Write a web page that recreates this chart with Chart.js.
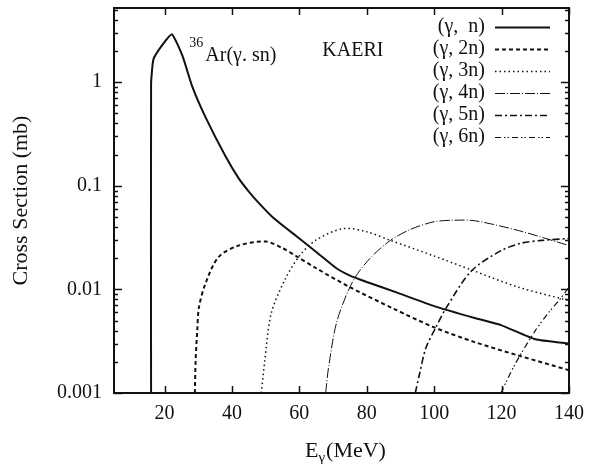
<!DOCTYPE html>
<html>
<head>
<meta charset="utf-8">
<script src="https://cdn.jsdelivr.net/npm/chart.js@4"></script>
<style>
  html, body { margin: 0; padding: 0; background: #fff; }
  #wrap { width: 593px; height: 464px; position: relative; }
</style>
</head>
<body>
<div id="wrap"><canvas id="xsChart"></canvas></div>
<script>
// --- DATA ---
var xTicks = [20, 40, 60, 80, 100, 120, 140];
var yTicks = [0.001, 0.01, 0.1, 1];

var nE     = [16.0, 16.0, 16.7, 19.4, 22.2, 25.3, 28.2, 32, 38, 42, 45, 48, 52, 56.5, 60, 65, 71, 75, 80, 89, 100, 112, 120, 130, 140];
var nSigma = [0.001, 0.95, 1.66, 2.3, 2.9, 1.8, 0.91, 0.47, 0.195, 0.118, 0.088, 0.068, 0.050, 0.038, 0.031, 0.023, 0.0160, 0.0136, 0.0118, 0.0093, 0.0069, 0.0053, 0.0045, 0.0033, 0.0030];

var n2E     = [29.0, 29.2, 29.7, 30.2, 32.1, 36, 42, 50, 55, 59, 65, 75, 88, 100, 112, 125, 140];
var n2Sigma = [0.001, 0.002, 0.004, 0.0067, 0.0113, 0.0205, 0.0265, 0.029, 0.025, 0.021, 0.016, 0.0105, 0.0065, 0.0043, 0.0031, 0.0023, 0.00166];

var n3E     = [48.7, 49.7, 51.6, 55.6, 60, 65, 73, 80, 87, 100, 112, 125, 140];
var n3Sigma = [0.001, 0.002, 0.0058, 0.0122, 0.021, 0.030, 0.0386, 0.036, 0.0297, 0.021, 0.015, 0.0105, 0.0078];

var n4E     = [67.8, 68.7, 71.2, 76, 81, 87, 93, 100, 106, 112, 125, 140];
var n4Sigma = [0.001, 0.0018, 0.005, 0.0122, 0.020, 0.0297, 0.038, 0.045, 0.0465, 0.046, 0.037, 0.0265];

var n5E     = [94.4, 95.6, 97.5, 100.5, 103.4, 111, 120, 126, 132, 140];
var n5Sigma = [0.001, 0.0015, 0.0027, 0.0043, 0.0065, 0.015, 0.0238, 0.028, 0.0297, 0.031];

var n6E     = [119.8, 124, 130, 134, 137, 140];
var n6Sigma = [0.001, 0.0019, 0.004, 0.006, 0.0078, 0.0105];

var seriesLabels = ['(\u03b3,  n)', '(\u03b3, 2n)', '(\u03b3, 3n)', '(\u03b3, 4n)', '(\u03b3, 5n)', '(\u03b3, 6n)'];

function pts(xs, ys) {
  return xs.map(function (x, i) { return { x: x, y: ys[i] }; });
}

var INK = '#111';
var SERIF = '"Liberation Serif", "Times New Roman", serif';

// --- frame, inward ticks, legend, labels (gnuplot look) ---
var gnuplotDecor = {
  id: 'gnuplotDecor',
  afterDraw: function (chart) {
    var ctx = chart.ctx;
    var a = chart.chartArea;
    var xs = chart.scales.x, ys = chart.scales.y;
    ctx.save();
    ctx.strokeStyle = INK;
    ctx.fillStyle = INK;

    // frame
    ctx.lineWidth = 2;
    ctx.strokeRect(a.left, a.top, a.right - a.left, a.bottom - a.top);

    // x ticks, bottom and top
    ctx.lineWidth = 1.5;
    ctx.beginPath();
    xTicks.forEach(function (v) {
      var px = Math.round(xs.getPixelForValue(v)) + 0.5;
      ctx.moveTo(px, a.bottom); ctx.lineTo(px, a.bottom - 7);
      ctx.moveTo(px, a.top);    ctx.lineTo(px, a.top + 7);
    });
    // y ticks, left and right, majors + log minors
    yTicks.forEach(function (dec) {
      for (var m = 1; m <= 9; m++) {
        var v = dec * m;
        if (v > ys.max) break;
        var py = Math.round(ys.getPixelForValue(v)) + 0.5;
        var len = m === 1 ? 8 : 4;
        ctx.moveTo(a.left, py);  ctx.lineTo(a.left + len, py);
        ctx.moveTo(a.right, py); ctx.lineTo(a.right - len, py);
      }
    });
    ctx.stroke();

    // legend, drawn with each dataset's own dash style
    ctx.font = '20px ' + SERIF;
    ctx.textAlign = 'right';
    ctx.textBaseline = 'middle';
    chart.data.datasets.forEach(function (ds, i) {
      var y = a.top + 19 + i * 22;
      ctx.fillText(ds.label, 485, y);
      ctx.save();
      ctx.lineWidth = ds.borderWidth;
      ctx.setLineDash(ds.borderDash || []);
      ctx.beginPath();
      ctx.moveTo(495, y + 0.5);
      ctx.lineTo(550, y + 0.5);
      ctx.stroke();
      ctx.restore();
    });

    // annotations
    ctx.textAlign = 'left';
    ctx.textBaseline = 'alphabetic';
    var ax = xs.getPixelForValue(32.1), ay = ys.getPixelForValue(1.6);
    ctx.font = '14px ' + SERIF;
    ctx.fillText('36', ax - 16, ay - 14);
    ctx.font = '20px ' + SERIF;
    ctx.fillText('Ar(\u03b3. sn)', ax, ay);
    ctx.fillText('KAERI', xs.getPixelForValue(66.8), ys.getPixelForValue(1.78));

    // x title: E sub gamma (MeV)
    var tx = 305, ty = 457;
    ctx.font = '22px ' + SERIF;
    ctx.fillText('E', tx, ty);
    var w = ctx.measureText('E').width;
    ctx.font = '15px ' + SERIF;
    ctx.fillText('\u03b3', tx + w, ty + 5);
    var w2 = ctx.measureText('\u03b3').width;
    ctx.font = '22px ' + SERIF;
    ctx.fillText('(MeV)', tx + w + w2 + 1, ty);

    ctx.restore();
  }
};

var ctx = document.getElementById('xsChart').getContext('2d');
var xsChart = new Chart(ctx, {
  type: 'line',
  data: {
    datasets: [
      { label: seriesLabels[0], data: pts(nE, nSigma),   borderWidth: 2,   borderDash: [],              tension: 0.15 },
      { label: seriesLabels[1], data: pts(n2E, n2Sigma), borderWidth: 2,   borderDash: [4, 3],          tension: 0.3 },
      { label: seriesLabels[2], data: pts(n3E, n3Sigma), borderWidth: 1.5, borderDash: [1.5, 3],        tension: 0.3 },
      { label: seriesLabels[3], data: pts(n4E, n4Sigma), borderWidth: 1,   borderDash: [10, 2, 1, 2],   tension: 0.3 },
      { label: seriesLabels[4], data: pts(n5E, n5Sigma), borderWidth: 1.6, borderDash: [7, 3, 2, 3],    tension: 0.3 },
      { label: seriesLabels[5], data: pts(n6E, n6Sigma), borderWidth: 1.2, borderDash: [6, 3, 1.5, 2, 1.5, 3], tension: 0.3 }
    ].map(function (d) {
      d.borderColor = INK;
      d.pointRadius = 0;
      d.fill = false;
      return d;
    })
  },
  options: {
    responsive: true,
    maintainAspectRatio: false,
    animation: false,
    layout: { padding: { top: 8, right: 20, left: 0, bottom: 0 } },
    plugins: {
      legend: { display: false },
      tooltip: { enabled: false }
    },
    scales: {
      x: {
        type: 'linear',
        min: 5,
        max: 140,
        grid: { display: false, drawTicks: false },
        border: { display: false },
        afterBuildTicks: function (s) { s.ticks = xTicks.map(function (v) { return { value: v }; }); },
        afterFit: function (s) { s.height = 71; },
        ticks: { color: INK, font: { family: SERIF, size: 20 }, padding: 9, maxRotation: 0 }
      },
      y: {
        type: 'logarithmic',
        min: 0.001,
        max: 5.2,
        grid: { display: false, drawTicks: false },
        border: { display: false },
        afterBuildTicks: function (s) { s.ticks = yTicks.map(function (v) { return { value: v }; }); },
        afterFit: function (s) { s.width = 114; s.paddingTop = 0; s.paddingBottom = 0; },
        ticks: {
          color: INK,
          font: { family: SERIF, size: 20 },
          padding: 12,
          callback: function (v) { return String(v); }
        },
        title: {
          display: true,
          text: 'Cross Section (mb)',
          color: INK,
          font: { family: SERIF, size: 22 },
          padding: { top: 8, bottom: 0 }
        }
      }
    }
  },
  plugins: [gnuplotDecor]
});
</script>
</body>
</html>
